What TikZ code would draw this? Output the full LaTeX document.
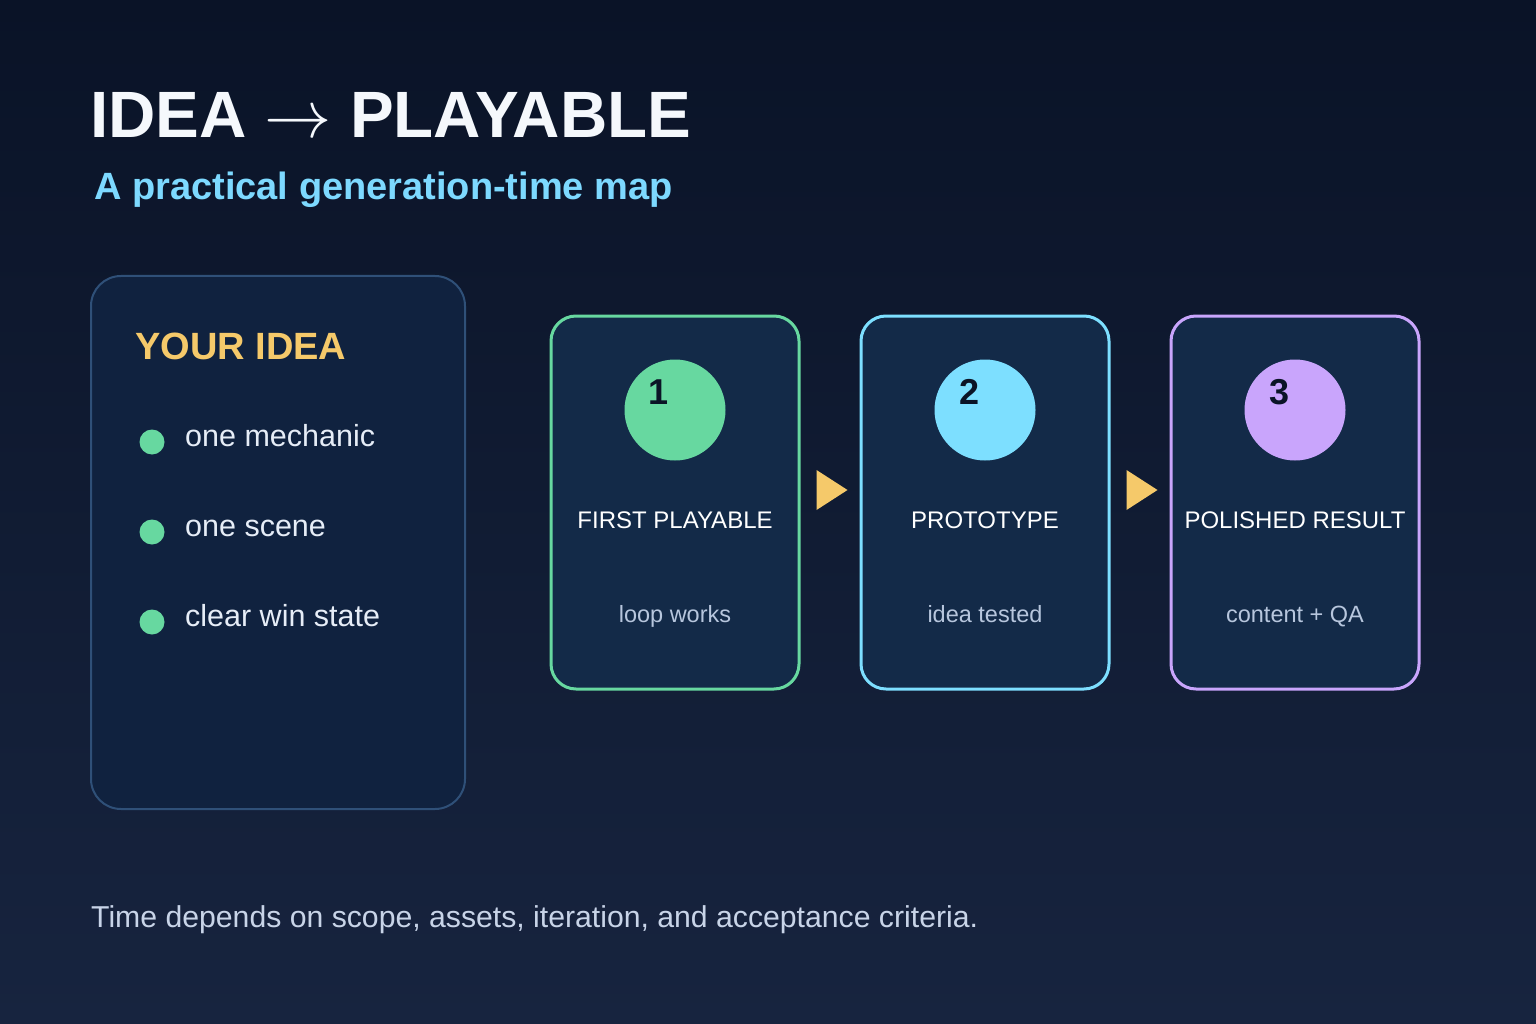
\documentclass[tikz,border=0pt]{standalone}
\usepackage{fontspec}
\setmainfont{Liberation Sans}
\usetikzlibrary{calc}
\definecolor{bgtop}{HTML}{0A1327}
\definecolor{bgbot}{HTML}{17243F}
\definecolor{ideafill}{HTML}{10223F}
\definecolor{ideaborder}{HTML}{2F5078}
\definecolor{cardfill}{HTML}{132A48}
\definecolor{cgreen}{HTML}{67D8A0}
\definecolor{ccyan}{HTML}{7DDFFF}
\definecolor{cpurple}{HTML}{C9A5FC}
\definecolor{gold}{HTML}{F5C96A}
\definecolor{subcyan}{HTML}{7DD9FF}
\definecolor{titlewhite}{HTML}{F5F8FC}
\definecolor{bullettext}{HTML}{E6EDF7}
\definecolor{mutetext}{HTML}{B7C6DD}
\definecolor{foottext}{HTML}{C8D4E8}
\definecolor{numdark}{HTML}{0B1426}
\tikzset{
  ideacard/.style={draw=ideaborder, line width=2pt, fill=ideafill, rounded corners=30pt,
    minimum width=374pt, minimum height=533pt, inner sep=0pt},
  stepcard/.style={draw=#1, line width=3pt, fill=cardfill, rounded corners=25pt,
    minimum width=248pt, minimum height=373pt, inner sep=0pt},
  stepdot/.style={circle, fill=#1, minimum size=101pt, inner sep=0pt},
  numtext/.style={text=numdark, font=\fontsize{36}{36}\selectfont\bfseries, inner sep=0pt},
  steptitle/.style={text=white, font=\fontsize{24}{24}\selectfont, inner sep=0pt, anchor=base},
  stepsub/.style={text=mutetext, font=\fontsize{23.5}{23.5}\selectfont, inner sep=0pt, anchor=base},
  bulletdot/.style={circle, fill=cgreen, minimum size=25pt, inner sep=0pt},
  bullettxt/.style={text=bullettext, font=\fontsize{30.5}{30.5}\selectfont, anchor=base west, inner sep=0pt},
  flowarrow/.style={fill=gold},
}
\begin{document}
\begin{tikzpicture}[x=1pt,y=-1pt]
\shade[top color=bgtop, bottom color=bgbot] (0,0) rectangle (1536,1024);
\useasboundingbox (0,0) rectangle (1536,1024);

% title
\node[anchor=base west, inner sep=0pt, text=titlewhite, font=\fontsize{65.5}{65.5}\selectfont\bfseries] (title) at (90,138) {IDEA \scalebox{2.7}{$\rightarrow$} PLAYABLE};
\node[anchor=base west, inner sep=0pt, text=subcyan, font=\fontsize{38}{38}\selectfont\bfseries] (subtitle) at (94,200) {A practical generation-time map};

% idea card
\node[ideacard] (idea) at (278,542.5) {};
\node[anchor=base west, inner sep=0pt, text=gold, font=\fontsize{38}{38}\selectfont\bfseries] (ideahead) at (135,359) {YOUR IDEA};
\node[bulletdot] (b1) at (152,442) {};
\node[bullettxt] (t1) at (185,446) {one mechanic};
\node[bulletdot] (b2) at (152,532) {};
\node[bullettxt] (t2) at (185,536) {one scene};
\node[bulletdot] (b3) at (152,622) {};
\node[bullettxt] (t3) at (185,626) {clear win state};

% step cards
\node[stepcard=cgreen] (c1) at (675,502.5) {};
\node[stepcard=ccyan] (c2) at (985,502.5) {};
\node[stepcard=cpurple] (c3) at (1295,502.5) {};

\node[stepdot=cgreen] (d1) at (675,410) {};
\node[stepdot=ccyan] (d2) at (985,410) {};
\node[stepdot=cpurple] (d3) at (1295,410) {};
\node[numtext] (n1) at (659,392) {1};
\node[numtext] (n2) at (969,392) {2};
\node[numtext] (n3) at (1279,392) {3};

\node[steptitle] (s1) at (675,528) {FIRST PLAYABLE};
\node[steptitle] (s2) at (985,528) {PROTOTYPE};
\node[steptitle] (s3) at (1295,528) {POLISHED RESULT};
\node[stepsub] (u1) at (675,622) {loop works};
\node[stepsub] (u2) at (985,622) {idea tested};
\node[stepsub] (u3) at (1295,622) {content + QA};

% arrows
\fill[flowarrow] ($(c1.east)+(16,-32.5)$) -- ($(c1.east)+(47,-12.5)$) -- ($(c1.east)+(16,7.5)$) -- cycle;
\fill[flowarrow] ($(c2.east)+(16,-32.5)$) -- ($(c2.east)+(47,-12.5)$) -- ($(c2.east)+(16,7.5)$) -- cycle;

% footer
\node[anchor=base west, inner sep=0pt, text=foottext, font=\fontsize{30.2}{30.2}\selectfont] (foot) at (91,927) {Time depends on scope, assets, iteration, and acceptance criteria.};
\end{tikzpicture}
\end{document}
